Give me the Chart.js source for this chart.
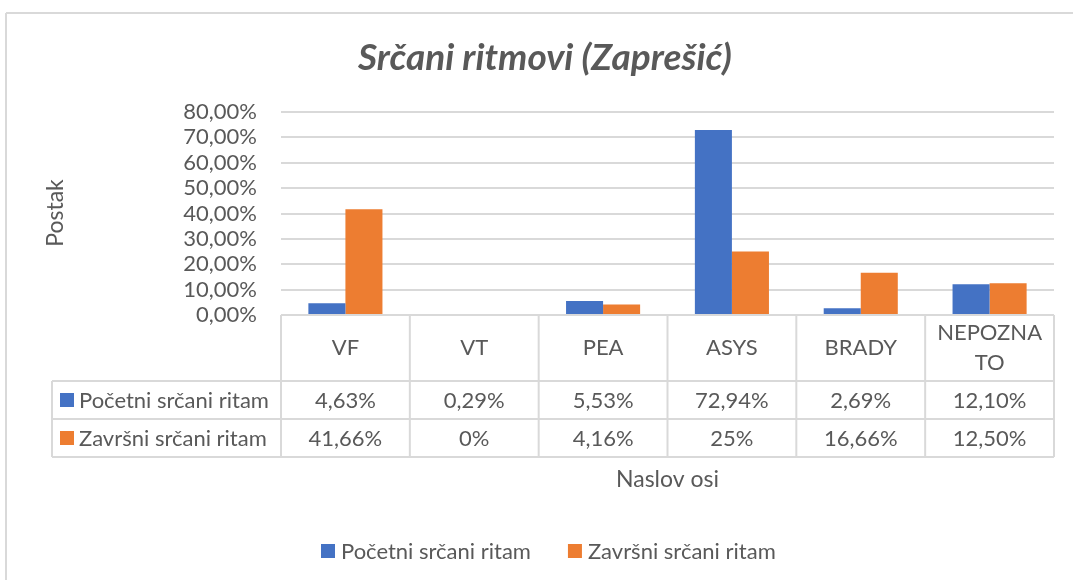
<!DOCTYPE html>
<html>
<head>
<meta charset="utf-8">
<script src="https://cdn.jsdelivr.net/npm/chart.js@4.4.1/dist/chart.umd.min.js"></script>
<style>
html, body { margin: 0; padding: 0; background: #fff; }
</style>
</head>
<body>
<canvas id="chart" width="1073" height="580"></canvas>
<script>
// data
const categories = ['VF', 'VT', 'PEA', 'ASYS', 'BRADY', ['NEPOZNA', 'TO']];
const initialRhythm = [4.63, 0.29, 5.53, 72.94, 2.69, 12.10];
const finalRhythm = [41.66, 0, 4.16, 25, 16.66, 12.50];
const seriesNames = ['Početni srčani ritam', 'Završni srčani ritam'];
const yMax = 80;
const yStep = 10;

const chartTitle = 'Srčani ritmovi (Zaprešić)';
const yTitle = 'Postak';
const xTitle = 'Naslov osi';

const colors = ['#4472C4', '#ED7D31'];
const textColor = '#595959';
const lineColor = '#D9D9D9';
const fontFamily = 'Lato, "Open Sans", sans-serif';
const fontSize = 22;

function tickLabel(v) {
    return v.toFixed(2).replace('.', ',') + '%';
}

// Excel shows whole numbers without decimals in the table
function tableLabel(v) {
    if (Number.isInteger(v)) return v + '%';
    return v.toFixed(2).replace('.', ',') + '%';
}

function hLine(ctx, x1, x2, y) {
    ctx.beginPath();
    ctx.moveTo(x1, y);
    ctx.lineTo(x2, y);
    ctx.stroke();
}

function vLine(ctx, x, y1, y2) {
    ctx.beginPath();
    ctx.moveTo(x, y1);
    ctx.lineTo(x, y2);
    ctx.stroke();
}

const excelPlugin = {
    id: 'excelPlugin',
    beforeDraw(chart) {
        const ctx = chart.ctx;
        ctx.save();
        ctx.fillStyle = '#fff';
        ctx.fillRect(0, 0, chart.width, chart.height);
        // outer chart border, cut off on the right and bottom
        ctx.strokeStyle = lineColor;
        ctx.lineWidth = 2;
        hLine(ctx, 6, chart.width, 13);
        vLine(ctx, 6, 13, chart.height);

        // title
        ctx.fillStyle = textColor;
        ctx.font = 'italic bold 37px ' + fontFamily;
        ctx.textAlign = 'center';
        ctx.textBaseline = 'alphabetic';
        ctx.fillText(chartTitle, 545, 70);

        // y axis title
        ctx.font = '23px ' + fontFamily;
        ctx.translate(56, 213);
        ctx.rotate(-Math.PI / 2);
        ctx.textBaseline = 'middle';
        ctx.fillText(yTitle, 0, 0);
        ctx.restore();
    },
    afterDraw(chart) {
        const ctx = chart.ctx;
        const xs = chart.scales.x;
        const area = chart.chartArea;
        const n = categories.length;
        const colW = (area.right - area.left) / n;
        const top = area.bottom;
        const headBottom = top + 66;
        const row1Bottom = headBottom + 38;
        const row2Bottom = row1Bottom + 38;
        const tableLeft = 52;
        const rows = [initialRhythm, finalRhythm];

        ctx.save();
        ctx.strokeStyle = lineColor;
        ctx.lineWidth = 2;
        hLine(ctx, area.left, area.right, top);
        hLine(ctx, tableLeft, area.right, headBottom);
        hLine(ctx, tableLeft, area.right, row1Bottom);
        hLine(ctx, tableLeft, area.right, row2Bottom);
        vLine(ctx, tableLeft, headBottom, row2Bottom);
        for (let i = 0; i <= n; i++) {
            vLine(ctx, area.left + i * colW, top, row2Bottom);
        }

        ctx.fillStyle = textColor;
        ctx.font = fontSize + 'px ' + fontFamily;
        ctx.textAlign = 'center';
        ctx.textBaseline = 'middle';
        categories.forEach((c, i) => {
            const cx = xs.getPixelForValue(i);
            const lines = Array.isArray(c) ? c : [c];
            const lh = 30;
            const y0 = (top + headBottom) / 2 - (lines.length - 1) * lh / 2;
            lines.forEach((l, j) => ctx.fillText(l, cx, y0 + j * lh));
        });

        const rowMid = [(headBottom + row1Bottom) / 2, (row1Bottom + row2Bottom) / 2];
        rows.forEach((vals, r) => {
            vals.forEach((v, i) => {
                ctx.fillText(tableLabel(v), xs.getPixelForValue(i), rowMid[r] + 1);
            });
        });

        // legend keys inside the table
        ctx.textAlign = 'left';
        seriesNames.forEach((name, r) => {
            ctx.fillStyle = colors[r];
            ctx.fillRect(60, rowMid[r] - 7, 14, 14);
            ctx.fillStyle = textColor;
            ctx.fillText(name, 79, rowMid[r] + 1);
        });

        // x axis title
        ctx.font = '23px ' + fontFamily;
        ctx.textAlign = 'center';
        ctx.fillText(xTitle, (area.left + area.right) / 2, 480);

        // bottom legend
        ctx.font = fontSize + 'px ' + fontFamily;
        let lx = 321;
        const ly = 551;
        ctx.textAlign = 'left';
        seriesNames.forEach((name, r) => {
            ctx.fillStyle = colors[r];
            ctx.fillRect(lx, ly - 7, 14, 14);
            ctx.fillStyle = textColor;
            ctx.fillText(name, lx + 20, ly + 1);
            lx += 20 + ctx.measureText(name).width + 37;
        });
        ctx.restore();
    }
};

new Chart(document.getElementById('chart'), {
    type: 'bar',
    data: {
        labels: categories,
        datasets: [
            { label: seriesNames[0], data: initialRhythm, backgroundColor: colors[0] },
            { label: seriesNames[1], data: finalRhythm, backgroundColor: colors[1] }
        ]
    },
    options: {
        responsive: false,
        animation: false,
        layout: { padding: { top: 112, right: 19, bottom: 265, left: 0 } },
        datasets: {
            bar: { categoryPercentage: 0.575, barPercentage: 1.0, borderWidth: 0 }
        },
        plugins: {
            legend: { display: false },
            title: { display: false },
            tooltip: { enabled: false }
        },
        scales: {
            x: {
                ticks: { display: false },
                grid: { display: false },
                border: { display: false },
                afterFit(scale) { scale.height = 0; }
            },
            y: {
                min: 0,
                max: yMax,
                ticks: {
                    stepSize: yStep,
                    autoSkip: false,
                    color: textColor,
                    padding: 24,
                    font: { family: fontFamily, size: fontSize },
                    callback: v => tickLabel(v)
                },
                grid: { color: lineColor, lineWidth: 2, drawTicks: false },
                border: { display: false },
                afterFit(scale) { scale.width = 281; }
            }
        }
    },
    plugins: [excelPlugin]
});
</script>
</body>
</html>
